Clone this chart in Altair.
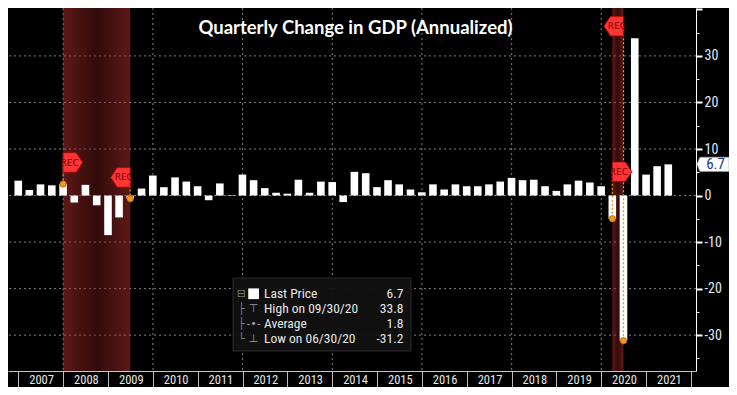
import altair as alt
import pandas as pd

# ---------------- data ----------------
quarters = (["2006-12-31"]
            + [f"{y}-{md}" for y in range(2007, 2021) for md in ("03-31", "06-30", "09-30", "12-31")]
            + ["2021-03-31", "2021-06-30"])
gdp = [3.2,
       1.2, 2.4, 2.2, 2.5,
       -1.5, 2.3, -2.1, -8.5,
       -4.7, -0.7, 1.5, 4.3,
       1.8, 3.9, 3.0, 2.0,
       -1.0, 2.6, 0.1, 4.5,
       3.3, 1.6, 0.6, 0.4,
       3.4, 0.6, 3.0, 2.9,
       -1.4, 5.1, 4.8, 1.8,
       3.3, 2.4, 1.3, 0.7,
       2.4, 1.3, 2.4, 2.0,
       2.0, 2.4, 3.0, 3.8,
       3.3, 3.4, 2.0, 1.0,
       2.4, 3.2, 2.8, 2.0,
       -5.0, -31.2, 33.8, 4.5,
       6.3, 6.7]

rec_start = ["2007-12-31", "2020-03-31"]
rec_end = ["2009-06-30", "2020-06-30"]

flag_dates = ["2007-12-31", "2009-06-30", "2020-03-31", "2020-06-30"]
flag_dirs = ["start", "end", "start", "end"]
flag_levels = [7.1, 3.9, 5.1, 36.4]
dot_values = [2.5, -0.7, -5.0, -31.2]

legend_labels = ["Last Price", "High on 09/30/20", "Average", "Low on 06/30/20"]
legend_values = ["6.7", "33.8", "1.8", "-31.2"]
legend_icons = ["", "\u22a4", "-\u2022-", "\u22a5"]
legend_tree = ["\u229f", "\u251c", "\u251c", "\u2514"]

title_text = "Quarterly Change in GDP (Annualized)"
last_value = gdp[-1]
year_ticks = list(range(2007, 2023))
y_grid = [-30, -20, -10, 0, 10, 20, 30]
x_grid = ["2008-01-01", "2010-01-01", "2012-01-01", "2014-01-01",
          "2016-01-01", "2018-01-01", "2020-01-01"]

# ---------------- frames ----------------
df = pd.DataFrame({"date": pd.to_datetime(quarters), "gdp": gdp})
rec_df = pd.DataFrame({"start": pd.to_datetime(rec_start), "end": pd.to_datetime(rec_end)})
flag_df = pd.DataFrame({"date": pd.to_datetime(flag_dates), "dir": flag_dirs,
                        "level": flag_levels, "dot": dot_values, "txt": ["REC"] * 4})
one = pd.DataFrame({"k": [0]})
tag_df = pd.DataFrame({"v": [last_value], "label": [f"{last_value}"]})
ygrid_df = pd.DataFrame({"g": y_grid})
xgrid_df = pd.DataFrame({"g": pd.to_datetime(x_grid)})

W, H = 688, 363
NARROW = "Liberation Sans Narrow, Roboto Condensed, DejaVu Sans Condensed, sans-serif"

x_scale = alt.Scale(domain=[alt.DateTime(year=2006, month=11, date=18),
                            alt.DateTime(year=2022, month=1, date=1)])
y_scale = alt.Scale(domain=[-37.7, 40.3], nice=False, zero=False)

x_axis = alt.Axis(
    title=None, orient="bottom", grid=False,
    values=[alt.DateTime(year=y, month=1, date=1) for y in year_ticks],
    labelExpr="year(datum.value) >= 2022 ? '' : timeFormat(datum.value, '%Y')",
    tickSize=16, tickColor="#bdbdbd", domainColor="#c8c8c8",
    labelOffset=22.7, labelPadding=-7.5, labelAlign="center", labelBaseline="middle",
    labelFlush=False, labelOverlap=False, labelBound=False,
    labelColor="#e8e8e8", labelFont=NARROW, labelFontSize=12.5,
)
y_axis = alt.Axis(
    title=None, orient="right", grid=False,
    values=list(range(-35, 45, 5)),
    labelExpr="abs(datum.value) <= 30 && datum.value % 10 === 0 ? '' + datum.value : ''",
    tickColor="white", domainColor="white",
    tickSize={"condition": {"test": "datum.value % 10 === 0", "value": 6}, "value": 3},
    tickWidth={"condition": {"test": "datum.value % 10 === 0", "value": 2}, "value": 1},
    labelColor="#e2eaf7", labelFont=NARROW, labelFontSize=14, labelPadding=2,
    labelAlign="left", labelBaseline="middle",
)


def X(field):
    return alt.X(field, type="temporal", scale=x_scale, axis=x_axis)


def Y(field):
    return alt.Y(field, type="quantitative", scale=y_scale, axis=y_axis)


GRID = dict(color="#808080", strokeDash=[2, 3], strokeWidth=1)
hgrid = alt.Chart(ygrid_df).mark_rule(**GRID).encode(y=Y("g"))
vgrid = alt.Chart(xgrid_df).mark_rule(**GRID).encode(x=X("g"))

shade = alt.Gradient(
    gradient="linear", x1=0, x2=1, y1=0, y2=0,
    stops=[alt.GradientStop(color="#c83434", offset=0),
           alt.GradientStop(color="#6a1616", offset=0.5),
           alt.GradientStop(color="#c83434", offset=1)],
)

recess = alt.Chart(rec_df).mark_rect(color=shade, opacity=0.47).encode(
    x=X("start"),
    x2="end:T",
)

bars = alt.Chart(df).mark_bar(width=7.6, color="white").encode(
    x=X("date"),
    y=Y("gdp"),
    y2=alt.datum(0),
)

connect = alt.Chart(flag_df).mark_rule(color="#e8941f", strokeDash=[2, 2], strokeWidth=1.3).encode(
    x=X("date"),
    y=Y("level"),
    y2="dot:Q",
)

dots = alt.Chart(flag_df).mark_point(filled=True, shape="circle", size=42, color="#f09a1e",
                                     opacity=1, stroke="#9a5200", strokeWidth=0.6).encode(
    x=X("date"),
    y=Y("dot"),
)

RIGHT_FLAG = "M-1,-1L0.33,-1L1,0L0.33,1L-1,1Z"
LEFT_FLAG = "M1,-1L-0.33,-1L-1,0L-0.33,1L1,1Z"

flag_layers = []
for d, shp, off in (("start", RIGHT_FLAG, 9.8), ("end", LEFT_FLAG, -9.8)):
    base = alt.Chart(flag_df).transform_filter(alt.datum.dir == d)
    flag_layers.append(
        base.mark_point(shape=shp, size=384, filled=True, color="#ff3434", opacity=1,
                        stroke="#a80000", strokeWidth=0.8, xOffset=off).encode(
            x=X("date"), y=Y("level"))
    )
    flag_layers.append(
        base.mark_text(fontSize=9, color="#7a0000", font="DejaVu Sans",
                       xOffset=off - (3.3 if off > 0 else -3.3)).encode(
            x=X("date"), y=Y("level"), text="txt:N")
    )

# last price tag on the right axis
TAG = "M-1,0L-0.82,-0.45L1,-0.45L1,0.45L-0.82,0.45Z"
tag = alt.Chart(tag_df).mark_point(shape=TAG, size=1024, filled=True, color="white", opacity=1,
                                   stroke="#9a9a9a", strokeWidth=0.6).encode(
    x=alt.value(705), y=Y("v"))
tag_text = alt.Chart(tag_df).mark_text(fontSize=15, color="#1c3a86", font=NARROW).encode(
    x=alt.value(707.5), y=Y("v"), text="label:N")

# title
title = alt.Chart(one).mark_text(text=title_text, font="Lato", fontSize=18.5, fontWeight="bold",
                                 color="white", align="center", baseline="middle").encode(
    x=alt.value(347.5), y=alt.value(20))

# legend box
LX0, LX1, LY0, LY1 = 225, 403, 270, 343
LH = 15.1
ROW1 = 308.4 - 1.5 * LH
legend_box = alt.Chart(one).mark_rect(color="#111111", opacity=0.95, stroke="#2e2e2e",
                                      strokeWidth=1).encode(
    x=alt.value(LX0), x2=alt.value(LX1), y=alt.value(LY0), y2=alt.value(LY1))
legend_tree_t = alt.Chart(one).mark_text(text=legend_tree, lineHeight=LH, fontSize=11,
                                         color="#7c7c7c", font="DejaVu Sans",
                                         align="center", baseline="middle").encode(
    x=alt.value(233.4), y=alt.value(ROW1))
legend_icon_t = alt.Chart(one).mark_text(text=legend_icons, lineHeight=LH, fontSize=11,
                                         color="#9a9a9a", font="DejaVu Sans",
                                         align="center", baseline="middle").encode(
    x=alt.value(245.6), y=alt.value(ROW1))
legend_square = alt.Chart(one).mark_point(shape="square", size=115, filled=True, color="white",
                                          opacity=1).encode(
    x=alt.value(245.6), y=alt.value(ROW1))
legend_lab_t = alt.Chart(one).mark_text(text=legend_labels, lineHeight=LH, fontSize=13.5,
                                        color="#e6e6e6", font=NARROW,
                                        align="left", baseline="middle").encode(
    x=alt.value(256), y=alt.value(ROW1))
legend_val_t = alt.Chart(one).mark_text(text=legend_values, lineHeight=LH, fontSize=13.5,
                                        color="#e6e6e6", font=NARROW,
                                        align="right", baseline="middle").encode(
    x=alt.value(395.4), y=alt.value(ROW1))

chart = alt.layer(
    hgrid, vgrid, recess, bars, connect, dots, *flag_layers,
    legend_box, legend_tree_t, legend_icon_t, legend_square, legend_lab_t, legend_val_t,
    tag, tag_text, title,
).properties(
    width=W, height=H,
    autosize=alt.AutoSizeParams(type="none"),
    padding={"left": 0, "top": 0, "right": 33, "bottom": 16},
).configure(
    background="black",
).configure_view(
    strokeWidth=0,
)

chart.save("out.html", embed_options={"renderer": "svg", "actions": False})
